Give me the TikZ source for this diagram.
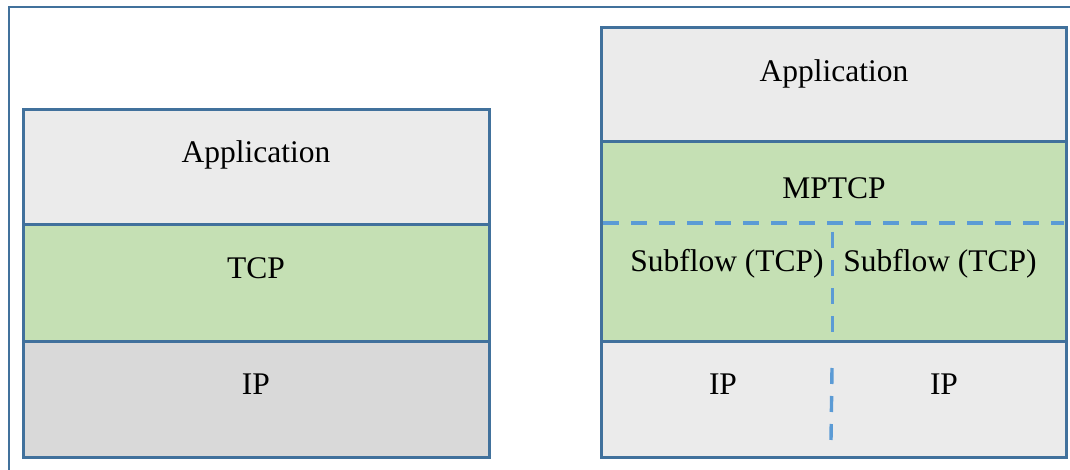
\documentclass[tikz,border=0pt]{standalone}
\usepackage{fontspec}
\setmainfont{Liberation Serif}
\definecolor{frameblue}{HTML}{41719C}
\definecolor{dashblue}{HTML}{5B9BD5}
\definecolor{appgray}{HTML}{EBEBEB}
\definecolor{ipgray}{HTML}{D9D9D9}
\definecolor{tcpgreen}{HTML}{C5E0B4}
\tikzset{
  layer/.style={draw=frameblue, line width=3pt},
  divider/.style={draw=dashblue, line width=3.4pt, dash pattern=on 16pt off 12pt},
  lbl/.style={anchor=base, inner sep=0pt, font=\fontsize{31.5}{36}\selectfont}
}
\begin{document}
\begin{tikzpicture}[x=1pt,y=-1pt]
\useasboundingbox (0,0) rectangle (1070,470);
\clip (0,0) rectangle (1070,470);
\fill[white] (0,0) rectangle (1070,470);
% outer frame
\draw[draw=frameblue, line width=2.8pt] (9,7) rectangle (1090,490);
% left stack
\fill[appgray] (23,110) rectangle (489,225);
\fill[tcpgreen] (23,225) rectangle (489,341);
\fill[ipgray] (23,341) rectangle (489,457);
\draw[layer] (23,110) rectangle (489,457);
\draw[layer] (23,225) -- (489,225);
\draw[layer] (23,341) -- (489,341);
\node[lbl] (lapp) at (256,163) {Application};
\node[lbl] (ltcp) at (256,278) {TCP};
\node[lbl] (lip) at (256,394) {IP};
% right stack
\fill[appgray] (601,28) rectangle (1066,142);
\fill[tcpgreen] (601,142) rectangle (1066,341);
\fill[appgray] (601,341) rectangle (1066,457);
\draw[layer] (601,28) rectangle (1066,457);
\draw[layer] (601,142) -- (1066,142);
\draw[layer] (601,341) -- (1066,341);
\coordinate (dl) at (603,223);
\coordinate (dr) at (1064,223);
\draw[divider] (dl) -- (dr);
\coordinate (v1) at (832.5,232);
\coordinate (v2) at (832.5,341);
\coordinate (v3) at (832,368);
\coordinate (v4) at (831,440);
\draw[divider] (v1) -- (v2);
\draw[divider] (v3) -- (v4);
\node[lbl] (rapp) at (834,82) {Application};
\node[lbl] (rmp) at (834,199) {MPTCP};
\node[lbl] (rs1) at (727,272) {Subflow (TCP)};
\node[lbl] (rs2) at (940,272) {Subflow (TCP)};
\node[lbl] (rip1) at (723,394) {IP};
\node[lbl] (rip2) at (944,394) {IP};
\end{tikzpicture}
\end{document}
